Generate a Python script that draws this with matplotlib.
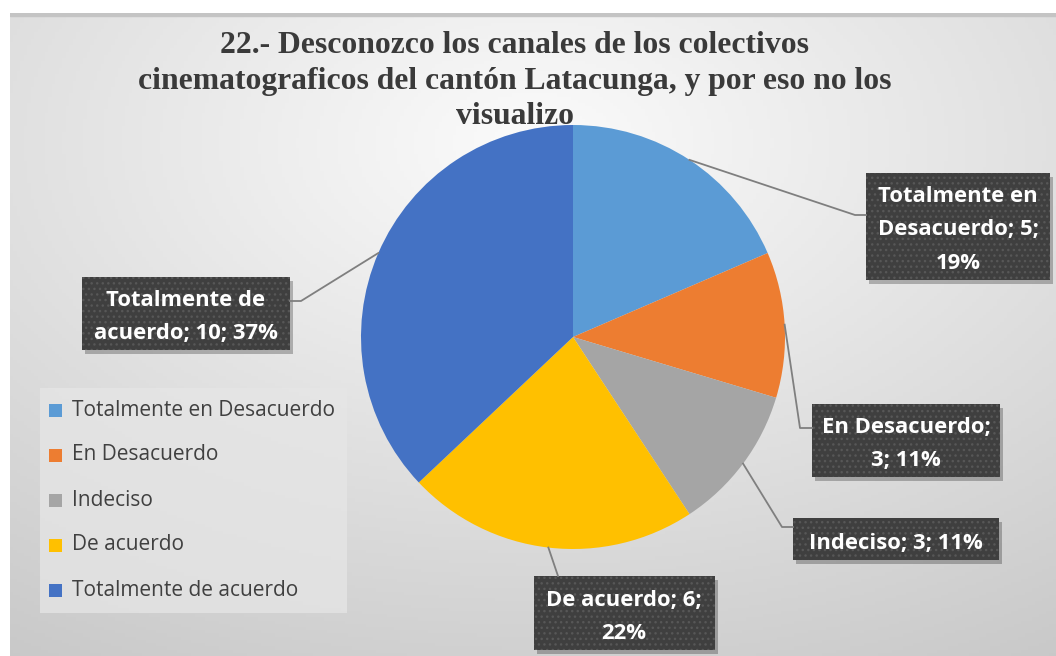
import numpy as np
import matplotlib
matplotlib.use("Agg")
import matplotlib.pyplot as plt
from matplotlib.patches import Rectangle

plt.rcParams["hatch.linewidth"] = 1.0

categories = ["Totalmente en Desacuerdo", "En Desacuerdo", "Indeciso",
              "De acuerdo", "Totalmente de acuerdo"]
values = [5, 3, 3, 6, 10]
colors = ["#5B9BD5", "#ED7D31", "#A5A5A5", "#FFC000", "#4472C4"]
data_labels = ["Totalmente en\nDesacuerdo; 5;\n19%",
               "En Desacuerdo;\n3; 11%",
               "Indeciso; 3; 11%",
               "De acuerdo; 6;\n22%",
               "Totalmente de\nacuerdo; 10; 37%"]
title = ("22.- Desconozco los canales de los colectivos\n"
         "cinematograficos del cantón Latacunga, y por eso no los\n"
         "visualizo")

W, H = 1056, 656
fig = plt.figure(figsize=(W / 100, H / 100), dpi=100)
fig.patch.set_facecolor("white")

# background gradient (chart area)
bg = fig.add_axes([10 / W, 0, (W - 10) / W, (H - 13) / H])
bg.set_axis_off()
yy, xx = np.mgrid[0:200, 0:300]
cx, cy = 150, 40
d = np.sqrt(((xx - cx) / 300) ** 2 + ((yy - cy) / 200) ** 2)
d = np.clip(d / 0.95, 0, 1)
g = 0.985 - 0.2 * d
img = np.dstack([g, g, g])
bg.imshow(img, aspect="auto", extent=[0, 1, 0, 1], origin="upper")
bg.set_xlim(0, 1)
bg.set_ylim(0, 1)
bg.add_patch(Rectangle((0, 0.996), 1, 0.004, color="#c4c4c4", transform=bg.transAxes))

fig.text(515 / W, (H - 81) / H, title, ha="center", va="center",
         fontsize=22.8, fontweight="bold", family="Liberation Serif",
         color="#3a3a3a", linespacing=1.28)

# pie
pcx, pcy, R = 573, 337, 212
ax = fig.add_axes([(pcx - R) / W, (H - pcy - R) / H, 2 * R / W, 2 * R / H])
ax.set_axis_off()
wedges, _ = ax.pie(values, colors=colors, startangle=90, counterclock=False,
                   radius=1, wedgeprops=dict(linewidth=0))
ax.set_xlim(-1, 1)
ax.set_ylim(-1, 1)

total = sum(values)

# label boxes: (center x, center y, width, height) pixels, knee, end
boxes = [
    (958, 226, 184, 107, (855, 215), (866, 215)),
    (906, 440, 188, 73, (800, 428), (812, 428)),
    (896, 539, 206, 42, (782, 527), (793, 527)),
    (624, 613, 181, 74, None, (558, 576)),
    (186, 313, 208, 73, (301, 301), (290, 301)),
]

cum = 0
for i, v in enumerate(values):
    mid = (cum + v / 2) / total * 2 * np.pi
    cum += v
    ex = pcx + R * np.sin(mid)
    ey = pcy - R * np.cos(mid)
    bx, by, bw, bh, knee, end = boxes[i]
    pts = [(ex, ey)] + ([knee] if knee else []) + [end]
    fx = [p[0] / W for p in pts]
    fy = [(H - p[1]) / H for p in pts]
    fig.add_artist(plt.Line2D(fx, fy, color="#7f7f7f", lw=1.3, transform=fig.transFigure))
    fig.add_artist(Rectangle(((bx - bw / 2 + 3) / W, (H - by - bh / 2 - 4) / H), bw / W, bh / H,
                             transform=fig.transFigure, fc="#000000", alpha=0.25, ec="none"))
    fig.add_artist(Rectangle(((bx - bw / 2) / W, (H - by - bh / 2) / H), bw / W, bh / H,
                             transform=fig.transFigure, fc="#3f3f3f", ec="#575757",
                             hatch="...", lw=0))
    fig.text(bx / W, (H - by - 4) / H, data_labels[i], ha="center", va="center", color="white",
             fontsize=15.8, fontweight="bold", family="Open Sans", linespacing=1.78)

# legend
fig.add_artist(Rectangle((40 / W, (H - 613) / H), 307 / W, 225 / H,
                         transform=fig.transFigure, fc="#e6e6e6", ec="none", alpha=0.75))
for i, (cat, c) in enumerate(zip(categories, colors)):
    y = 410 + 45 * i
    fig.add_artist(Rectangle((49 / W, (H - y - 6.5) / H), 13 / W, 13 / H,
                             transform=fig.transFigure, fc=c, ec="none"))
    fig.text(72 / W, (H - y) / H, cat, ha="left", va="center", color="#404040",
             fontsize=15, family="Open Sans")

fig.savefig("out.png", dpi=100, facecolor=fig.get_facecolor())
